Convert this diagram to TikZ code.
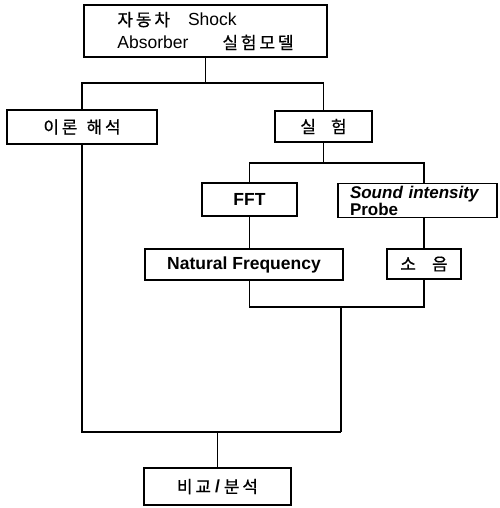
\documentclass[tikz,border=0pt]{standalone}
\usepackage{fontspec}
\setmainfont{Liberation Sans}
\newfontfamily\krfont[FakeBold=0.6]{Noto Sans CJK KR}
\usetikzlibrary{positioning,calc}
\newcommand{\kr}[1]{{\fontsize{17}{19}\krfont\mdseries #1}}
\tikzset{
  fig/.style={font=\fontsize{17.5}{20}\selectfont\bfseries},
  box/.style={draw,line width=1.6pt,align=center,inner sep=0pt},
  ln/.style={line width=1.6pt},
}

\begin{document}
\begin{tikzpicture}[x=1pt,y=-1pt,fig]
\useasboundingbox (0,0) rectangle (499,508);

% =======================  model and the two branches  =====================
\node[box,minimum width=243pt,minimum height=52pt,align=left,
      font=\fontsize{17.5}{23}\selectfont\mdseries] (model) at (205.5,31)
     {\kr{자\,동\,차}\hspace{18pt}Shock\\Absorber\hspace{34pt}\kr{실\,험\,모\,델}};
\node[box,minimum width=150pt,minimum height=34pt] (theory) at (82,127)
     {\kr{이\,론\hspace{9pt}해\,석}};
\node[box,minimum width=97pt,minimum height=31pt] (exper) at (323.5,126.5)
     {\kr{실\hspace{15pt}험}};

% =======================  experiment side  ================================
\node[box,minimum width=95pt,minimum height=33pt] (fft) at (249.5,199.5) {FFT};
\node[box,minimum width=159pt,minimum height=34pt,align=left,text width=135pt,
      inner xsep=12pt,font=\fontsize{17}{13}\selectfont\bfseries] (probe) at (417.5,200.5)
     {\textit{Sound intensity}\\Probe};
\node[box,minimum width=198pt,minimum height=31pt] (natfreq) at (244,264.5)
     {Natural Frequency};
\node[box,minimum width=74pt,minimum height=30pt] (noise) at (424,264)
     {\kr{소\hspace{16pt}음}};

% =======================  result  =========================================
\node[box,minimum width=147pt,minimum height=37pt] (compare) at (217.5,486.5)
     {\kr{비\,교}\hspace{4pt}/\hspace{4pt}\kr{분\,석}};

% connectors
\draw[ln] (model.south) -- ++(0,25) coordinate (j1);
\draw[ln] (theory.north) |- (j1) -| (exper.north);
\draw[ln] (exper.south) -- ++(0,20) coordinate (j2);
\draw[ln] (fft.north) |- (j2) -| (noise.north |- probe.north);
\draw[ln] (fft.south) -- (fft.south |- natfreq.north);
\draw[ln] (noise.north |- probe.south) -- (noise.north);
\coordinate (j3) at (341,307);
\draw[ln] (fft.south |- natfreq.south) |- (j3) -| (noise.south);
\draw[ln] (j3) -- ++(0,125) coordinate (j4);
\draw[ln] (theory.south) |- (j4);
\draw[ln] (compare.north) -- (compare.north |- j4);
\end{tikzpicture}
\end{document}
